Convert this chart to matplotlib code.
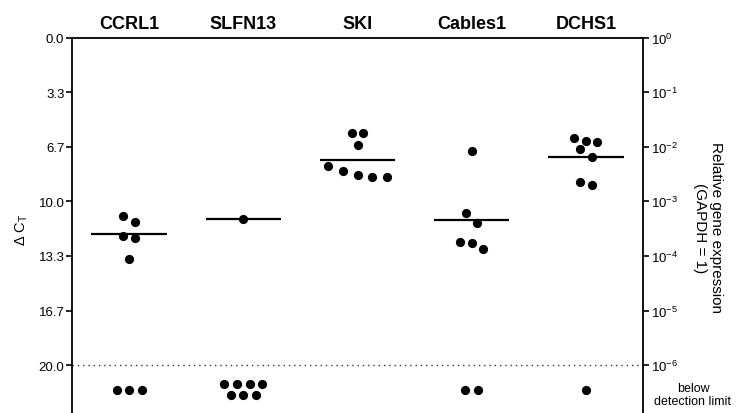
import numpy as np
import matplotlib
matplotlib.use("Agg")
import matplotlib.pyplot as plt
from matplotlib.ticker import NullLocator
from matplotlib.transforms import blended_transform_factory

plt.rcParams['font.family'] = ['Liberation Sans', 'DejaVu Sans']
plt.rcParams['mathtext.fontset'] = 'custom'
plt.rcParams['mathtext.rm'] = 'Liberation Sans'
plt.rcParams['mathtext.it'] = 'Liberation Sans:italic'
plt.rcParams['axes.unicode_minus'] = False

# delta Ct per sample (detected ones only)
genes = ['CCRL1', 'SLFN13', 'SKI', 'Cables1', 'DCHS1']
dct_ccrl1 = [10.87, 11.29, 12.10, 12.22, 13.50]
dct_slfn13 = [11.05]
dct_ski = [5.85, 5.85, 6.58, 7.86, 8.17, 8.41, 8.49, 8.49]
dct_cables1 = [6.95, 10.70, 11.33, 12.46, 12.53, 12.89]
dct_dchs1 = [6.16, 6.34, 6.40, 6.83, 7.32, 8.79, 9.03]
detected = [dct_ccrl1, dct_slfn13, dct_ski, dct_cables1, dct_dchs1]
n_below = [3, 7, 0, 2, 1]  # samples below detection limit

detection_limit = 20.0
below_pos = 21.5
dct_ticks = np.linspace(0, 20, 7)
rel_ticks = [10.0 ** -k for k in range(7)]


def swarm_rows(vals, step, gap=0.65):
    """crude GraphPad-like layout: close values share a centred row"""
    rows = []
    for v in sorted(vals):
        if rows and v - rows[-1][0] < gap:
            rows[-1].append(v)
        else:
            rows.append([v])
    xs, ys = [], []
    for r in rows:
        n = len(r)
        st = step * 1.3 if n >= 5 else step
        for i, v in enumerate(r):
            xs.append((i - (n - 1) / 2) * st)
            ys.append(v)
    return np.array(xs), np.array(ys)


def below_rows(n, step, per_row=4, dy=0.33):
    xs, ys = [], []
    if n == 0:
        return np.array(xs), np.array(ys)
    sizes = [n] if n <= per_row else [per_row, n - per_row]
    offs = [0.0] if len(sizes) == 1 else [-dy, dy]
    for size, off in zip(sizes, offs):
        for i in range(size):
            xs.append((i - (size - 1) / 2) * step)
            ys.append(below_pos + off)
    return np.array(xs), np.array(ys)


W, H = 736, 414
fig = plt.figure(figsize=(W / 100, H / 100), dpi=100)
ax = fig.add_axes([72 / W, 0, (643 - 72) / W, (H - 38.5) / H])
ymax = 22.92
ax.set_xlim(-0.5, 4.5)
ax.set_ylim(ymax, 0)

step = 0.1
for i, vals in enumerate(detected):
    xs, ys = swarm_rows(vals, step)
    ax.scatter(i + xs, ys, s=44, color='k', zorder=3, clip_on=False, linewidths=0)
    ax.hlines(np.mean(vals), i - 0.33, i + 0.33, color='k', lw=1.6, zorder=2)
    bx, by = below_rows(n_below[i], 0.11)
    if len(bx):
        ax.scatter(i + bx, by, s=44, color='k', zorder=3, clip_on=False, linewidths=0)

ax.axhline(detection_limit, color='#333333', lw=1.0, ls=(0, (1, 2.8)))

ax.set_xticks([])
ax.set_yticks(dct_ticks)
ax.set_yticklabels([f"{v:.1f}" for v in dct_ticks], fontsize=9.5)
ax.tick_params(axis='y', direction='out', length=4, width=1.2, pad=1.5)
ax.spines['bottom'].set_visible(False)
ax.spines['right'].set_visible(False)
for s in ['left', 'top']:
    ax.spines[s].set_linewidth(1.3)

trans = blended_transform_factory(ax.transData, ax.transAxes)
for i, g in enumerate(genes):
    ax.text(i, 1.036, g, transform=trans, ha='center', va='center',
            fontsize=13, fontweight='bold')

ax2 = ax.twinx()
ax2.set_yscale('log')
ax2.set_ylim(10 ** (-0.3 * ymax), 1)
ax2.set_yticks(rel_ticks)
ax2.set_yticklabels([r'$\mathregular{10^{%d}}$' % (-k) for k in range(7)], fontsize=9.5)
ax2.yaxis.set_minor_locator(NullLocator())
ax2.tick_params(axis='y', direction='out', length=4, width=1.2, pad=1.5)
for s in ['left', 'top', 'bottom']:
    ax2.spines[s].set_visible(False)
ax2.spines['right'].set_linewidth(1.3)

fig.text(22 / W, 1 - 230 / H, 'Δ C$_\\mathregular{T}$', rotation=90,
         ha='center', va='center', fontsize=10.5)
fig.text(708 / W, 1 - 228 / H, 'Relative gene expression\n(GAPDH = 1)',
         rotation=-90, ha='center', va='center', multialignment='center', fontsize=11)
fig.text(693 / W, 1 - 395.5 / H, 'below\ndetection limit', ha='center', va='center',
         multialignment='center', fontsize=9, linespacing=1.05)

fig.savefig('out.png', dpi=100)
